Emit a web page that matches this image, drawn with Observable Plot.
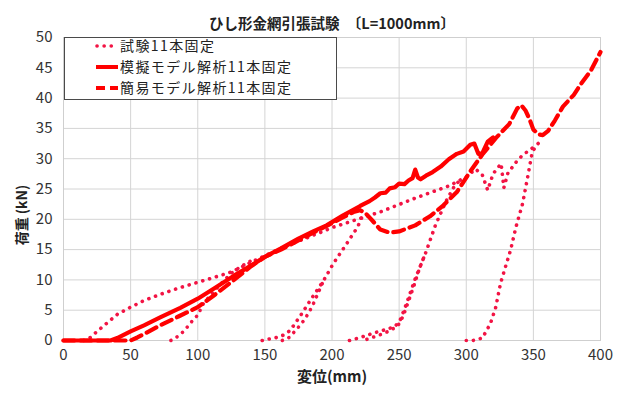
<!DOCTYPE html>
<html><head><meta charset="utf-8">
<script src="https://cdn.jsdelivr.net/npm/d3@7"></script>
<script src="https://cdn.jsdelivr.net/npm/@observablehq/plot@0.6"></script>
<style>body{margin:0;background:#fff;}</style>
</head><body><div id="chart"></div>
<script>
const title = "ひし形金網引張試験　〔L=1000mm〕";
const xLabel = "変位(mm)";
const yLabel = "荷重 (kN)";
const seriesNames = ["試験11本固定", "模擬モデル解析11本固定", "簡易モデル解析11本固定"];
const xTicks = [0, 50, 100, 150, 200, 250, 300, 350, 400];
const yTicks = [0, 5, 10, 15, 20, 25, 30, 35, 40, 45, 50];

// 試験11本固定 (test) — several loading / reloading branches [displacement mm, load kN]
const testLoad = [[15,0],[20,0.5],[25,1.5],[33,3],[40,4.3],[50,5.5],[60,6.6],[72,7.6],[85,8.6],[100,9.6],[112,10.4],[125,11.3],[137,12.6],[150,14],[165,15.5],[182,17],[201,18.7],[219,20],[237,21.3],[262,23.5],[287,25.5],[300,27],[307,28.3],[312,27.3],[316,24.8],[320,27.5],[326,29.2],[328,25.2],[331,27.6],[337,29.4],[342,30.6],[347,31.4],[352,32.2]];
const testReload1 = [[80,0],[83,0.3],[90,1.6],[95,3],[100,4.2],[104,6],[110,7.6],[115,8.8],[120,10],[125,11.1],[132,12.2],[140,13.2]];
const testReload2a = [[148,0],[152,0.2],[159,0.5],[165,1],[169,1.7],[174,3.3],[178,4.6],[182,6],[188,8],[194,10],[201,12.7],[211,16],[219,18.7],[222,20.2]];
const testReload2b = [[163,0],[168,0.5],[171,1.2],[175,2.2],[179,3.3],[183,4.7],[186,6],[190,8],[194,10]];
const testReload3a = [[213,0],[218,0.3],[224,0.7],[232,1.3],[240,1.8],[247,2.3],[251,3.5],[255,5.8],[262,10.2],[270,14.6],[277,19],[285,23],[292,25.8],[298,26.8]];
const testReload3b = [[226,0.2],[234,0.8],[242,1.5],[249,2.4],[253,4],[257,6.5],[261,9],[265,11.8],[270,14.6]];
const testReload4 = [[300,0],[305,0],[312,0.4],[318,2.8],[322,5.5],[325.5,9.4],[329,12],[333,14.9],[337,18.7],[342,22.6],[345.6,26.8],[349,30.9],[352,32.2],[354,32.6]];

// 模擬モデル解析11本固定 (solid)
const simModel = [[0,0],[35,0],[40,0.4],[50,1.5],[60,2.5],[72,3.8],[87,5.4],[100,6.9],[113,8.7],[127,10.7],[140,12.4],[150,13.8],[162,15.2],[175,16.8],[186,18],[196,19],[208,20.6],[221,22.2],[228,23],[232,23.6],[236,24.3],[240,24.4],[243,25.1],[247,25.3],[250,25.9],[254,25.8],[257,26.4],[260,26.8],[262,28.2],[264,26.9],[266,26.6],[270,27.2],[275,27.8],[281,28.7],[287,29.9],[293,30.8],[298,31.2],[303,32.3],[306,32.5],[309,30.8],[312,30.9],[316,32.8],[320,33.5]];

// 簡易モデル解析11本固定 (dashed)
const simpleModel = [[0,0],[50,0],[55,0.5],[62,1.3],[72,2.5],[86,4],[100,5.5],[113,7.6],[127,10],[140,12.3],[150,13.8],[162,15],[175,16.5],[186,17.8],[196,18.9],[208,20.3],[216,21.2],[221,21.5],[225,21],[230,19.8],[236,18.3],[243,17.8],[250,18],[262,19],[273,20.5],[283,22.3],[293,24.5],[303,27.9],[312,30.7],[322,33.4],[332,35.7],[338,38.3],[341,38.8],[344,38],[347,36.6],[350,34.8],[354,34],[357,33.9],[361,34.6],[366,36.3],[372,38.6],[380,40.5],[385,42.2],[393,44.6],[400,47.6]];

const rows = (arr, seg) => arr.map(([x, y]) => ({x, y, seg}));
const testRows = [
  ...rows(testLoad, "a"), ...rows(testReload1, "b"), ...rows(testReload2a, "c"), ...rows(testReload2b, "d"),
  ...rows(testReload3a, "e"), ...rows(testReload3b, "f"), ...rows(testReload4, "g")
];
const simRows = rows(simModel, "s");
const simpleRows = rows(simpleModel, "p");

const RED = "#ff0000";
const DOT = "#f21444";
const FONT = "'Noto Sans CJK JP', 'Noto Sans', sans-serif";

function legend() {
  const g = d3.create("svg:g").attr("font-family", FONT).attr("text-anchor", "start");
  g.append("rect").attr("x", 64.5).attr("y", 37.5).attr("width", 272).attr("height", 62)
    .attr("fill", "#fff").attr("stroke", "#4a4a4a").attr("stroke-width", 1);
  const ys = [46, 67, 88];
  const styles = [
    {color: DOT, w: 3.6, dash: "0.1 7", cap: "round"},
    {color: RED, w: 4, dash: null, cap: "butt"},
    {color: RED, w: 4, dash: "9 5", cap: "butt"}
  ];
  seriesNames.forEach((name, i) => {
    const s = styles[i];
    const l = g.append("line").attr("x1", i === 0 ? 97 : 96).attr("x2", 118).attr("y1", ys[i]).attr("y2", ys[i])
      .attr("stroke", s.color).attr("stroke-width", s.w).attr("stroke-linecap", s.cap);
    if (s.dash) l.attr("stroke-dasharray", s.dash);
    g.append("text").attr("x", 120).attr("y", ys[i]).attr("dy", "0.36em")
      .attr("font-size", 14).attr("letter-spacing", "1.4px").attr("fill", "#222").text(name);
  });
  // rotated y-axis label
  g.append("text").attr("transform", "translate(22,215) rotate(-90)").attr("text-anchor", "middle")
    .attr("dy", "0.35em").attr("font-size", 14).attr("font-weight", "bold").attr("fill", "#222").text(yLabel);
  return g.node();
}

const chart = Plot.plot({
  width: 623, height: 393,
  marginLeft: 63, marginRight: 23, marginTop: 37, marginBottom: 53,
  style: {fontFamily: FONT, background: "#fff", overflow: "visible"},
  x: {domain: [0, 400]},
  y: {domain: [0, 50]},
  marks: [
    Plot.gridX(xTicks, {stroke: "#d4d4d4", strokeOpacity: 1}),
    Plot.gridY(yTicks, {stroke: "#d4d4d4", strokeOpacity: 1}),
    Plot.frame({stroke: "#cfcfcf"}),
    Plot.line(testRows, {x: "x", y: "y", z: "seg", stroke: DOT, strokeWidth: 3.6, strokeDasharray: "0.1 7", strokeLinecap: "round"}),
    Plot.line(simpleRows, {x: "x", y: "y", stroke: RED, strokeWidth: 4.2, strokeDasharray: "11 6"}),
    Plot.line(simRows, {x: "x", y: "y", stroke: RED, strokeWidth: 4.2, strokeLinejoin: "round"}),
    legend,
    Plot.axisX(xTicks, {tickSize: 0, tickPadding: 9, fontSize: 15, fill: "#333", label: null}),
    Plot.axisY(yTicks, {tickSize: 0, tickPadding: 11, fontSize: 15, fill: "#333", label: null}),
    Plot.text([xLabel], {frameAnchor: "bottom", dy: 41, fontSize: 15, fontWeight: "bold", fill: "#222"}),
    Plot.text([title], {frameAnchor: "top", dy: -19, fontSize: 14.5, fontWeight: "bold", fill: "#222"})
  ]
});
document.getElementById("chart").appendChild(chart);
</script>
</body></html>
